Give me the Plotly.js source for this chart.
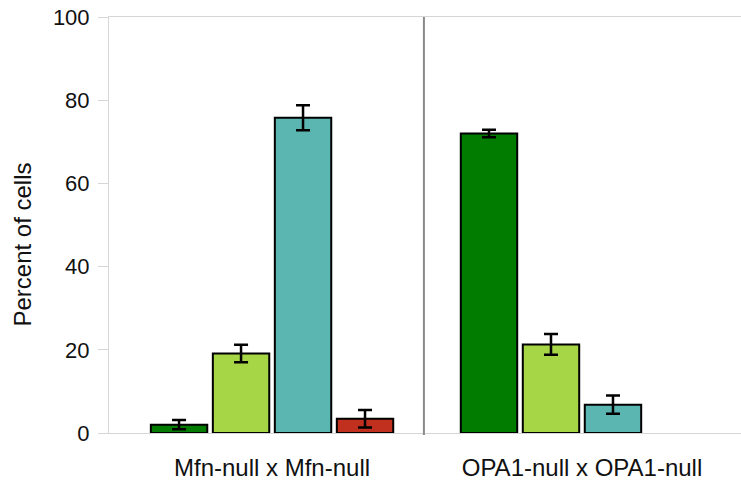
<!DOCTYPE html>
<html>
<head>
<meta charset="utf-8">
<script src="https://cdn.plot.ly/plotly-3.0.1.min.js"></script>
<style>html,body{margin:0;padding:0;background:#fff;}#chart{width:741px;height:481px;}</style>
</head>
<body>
<div id="chart"></div>
<script>
const categories = ["Mfn-null x Mfn-null", "OPA1-null x OPA1-null"];
const seriesNames = ["Series 1", "Series 2", "Series 3", "Series 4"];
const seriesColors = ["#017c01", "#a6d545", "#5bb5b1", "#c1301f"];
const series1 = [2.0, 72.0];
const series1Err = [1.1, 0.9];
const series2 = [19.1, 21.3];
const series2Err = [2.1, 2.5];
const series3 = [75.8, 6.8];
const series3Err = [3.0, 2.2];
const series4 = [3.4, 0];
const series4Err = [2.1, 0];
const yTicks = [0, 20, 40, 60, 80, 100];

const values = [series1, series2, series3, series4];
const errs = [series1Err, series2Err, series3Err, series4Err];
const xIdx = categories.map((c, i) => i);

const traces = values.map((v, k) => ({
  type: 'bar',
  name: seriesNames[k],
  x: xIdx,
  y: v,
  marker: {color: seriesColors[k], line: {color: '#000', width: 2}},
  error_y: {type: 'data', array: errs[k], visible: true, color: '#000', thickness: 2.5, width: 7},
  hoverinfo: 'y'
}));
// the fourth series has no bar in the second group
traces[3].x = [0];
traces[3].y = [series4[0]];
traces[3].error_y.array = [series4Err[0]];

const layout = {
  width: 741, height: 481,
  margin: {l: 109, r: 0, t: 17, b: 48},
  paper_bgcolor: '#fff', plot_bgcolor: '#fff',
  showlegend: false,
  barmode: 'group',
  bargap: 0.2,
  bargroupgap: 0.09,
  font: {family: 'Liberation Sans, Arial, sans-serif', color: '#111'},
  xaxis: {
    range: [-0.526, 1.513],
    tickvals: xIdx,
    ticktext: categories,
    tickfont: {size: 24, color: '#111'},
    showgrid: false, zeroline: false,
    showline: true, linecolor: '#d6d6d6', linewidth: 1, mirror: true,
    ticks: 'outside', ticklen: 13, tickcolor: 'rgba(0,0,0,0)'
  },
  yaxis: {
    range: [0, 100],
    tickvals: yTicks,
    tickfont: {size: 22, color: '#111'},
    showgrid: false, zeroline: false,
    showline: true, linecolor: '#d6d6d6', linewidth: 1,
    ticks: 'outside', ticklen: 10, tickcolor: '#d6d6d6',
    ticklabelstandoff: 4
  },
  shapes: [{
    type: 'line', xref: 'x', yref: 'paper',
    x0: 0.49, x1: 0.49, y0: -0.005, y1: 1,
    line: {color: '#8a8a8a', width: 2}
  }],
  annotations: [{
    text: 'Percent of cells', textangle: -90,
    xref: 'paper', yref: 'paper', x: -0.137, y: 0.454,
    xanchor: 'center', yanchor: 'middle', showarrow: false,
    font: {size: 24, color: '#111'}
  }]
};

Plotly.newPlot('chart', traces, layout, {displayModeBar: false, staticPlot: true});
</script>
</body>
</html>
